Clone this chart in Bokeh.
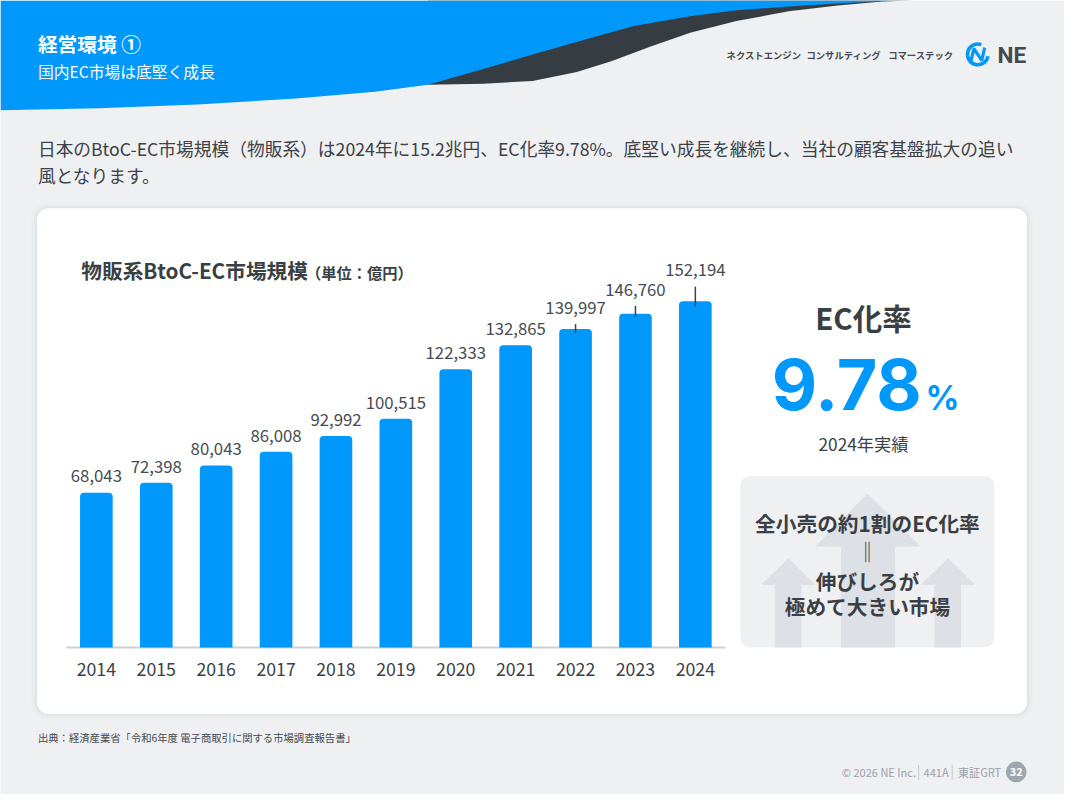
import math
from bokeh.plotting import figure
from bokeh.models import Range1d, ColumnDataSource
from bokeh.core.properties import value
from bokeh.embed import file_html
from bokeh.resources import INLINE

# ---------------- data ----------------
years = [2014, 2015, 2016, 2017, 2018, 2019, 2020, 2021, 2022, 2023, 2024]
market_size = [68043, 72398, 80043, 86008, 92992, 100515, 122333, 132865, 139997, 146760, 152194]
year_labels = [str(y) for y in years]
value_labels = [f"{v:,}" for v in market_size]

header_title = "経営環境 ①"
header_sub = "国内EC市場は底堅く成長"
company_items = ["ネクストエンジン", "コンサルティング", "コマーステック"]
lead_lines = ["日本のBtoC-EC市場規模（物販系）は2024年に15.2兆円、EC化率9.78%。底堅い成長を継続し、当社の顧客基盤拡大の追い",
              "風となります。"]
chart_title = "物販系BtoC-EC市場規模"
chart_unit = "（単位：億円）"
rate_title = "EC化率"
rate_value = "9.78"
rate_unit = "%"
rate_note = "2024年実績"
box_lines = ["全小売の約1割のEC化率", "‖", "伸びしろが", "極めて大きい市場"]
source_text = "出典：経済産業省「令和6年度 電子商取引に関する市場調査報告書」"
footer_items = ["© 2026 NE Inc.", "441A", "東証GRT"]
page_no = "32"

# ---------------- style ----------------
BG = "#eff0f2"
BLUE = "#0098fb"
DARK = "#363d42"
TXT = "#3c4146"
HEAD = "#3a3f44"
JP = "Noto Sans CJK JP"

label_gap = [17, 17, 17, 17, 17, 17, 17, 17, 22, 25, 32]
leader_above = [0, 0, 0, 0, 0, 0, 0, 0, 5, 8, 15]
leader_below = [0, 0, 0, 0, 0, 0, 0, 0, 4, 3, 5]

# page is laid out in reference pixel coordinates (1080 x 810)
PW, PH = 1080, 810
W, H = 1064, 794
S = W / PW

BASE_Y = 660.0
K = 431.0           # value units per reference pixel
STEP = 60.8         # reference pixels per year
X_FIRST = 97.3      # centre of first bar
BAR_W = 0.545

p = figure(width=W, height=H, x_range=Range1d(0, PW), y_range=Range1d(PH, 0),
           output_backend="svg", toolbar_location=None, min_border=0,
           x_axis_type=None, y_axis_type=None,
           background_fill_color=BG, border_fill_color=BG, outline_line_color=None)
p.xgrid.visible = False
p.ygrid.visible = False

yr_start = years[0] - X_FIRST / STEP
p.extra_x_ranges = {"yr": Range1d(yr_start, yr_start + PW / STEP)}
p.extra_y_ranges = {"val": Range1d(-(PH - BASE_Y) * K, BASE_Y * K)}


def fs(size):
    return f"{size * S:.2f}px"


def txt(x, y, s, size, color=TXT, bold=False, align="left", font=JP):
    p.text(x=[x], y=[y], text=[s], text_font=value(font), text_font_size=fs(size),
           text_color=color, text_font_style="bold" if bold else "normal",
           text_align=align, text_baseline="middle")


# ---------------- header waves ----------------
dark_x = [434, 490, 540, 585, 620, 660, 700, 747, 800, 850, 895, 925, 700, 434]
dark_y = [86, 85, 82, 73, 62, 47, 33, 21, 11, 5, 1, 0, 0, 0]
p.patch(dark_x, dark_y, fill_color=DARK, line_color=None)
blue_x = [0, 905, 850, 800, 747, 700, 643, 600, 540, 490, 434, 380, 300, 200, 100, 0]
blue_y = [0, 0, 3, 6, 10, 16, 26, 38, 55, 70, 86, 93, 100, 106, 110, 112]
p.patch(blue_x, blue_y, fill_color=BLUE, line_color=None)

txt(38, 44, header_title, 20, "white", bold=True)
txt(38, 72, header_sub, 16, "white")

# company menu + logo
for xx, s in zip([737, 818, 901], company_items):
    txt(xx, 56, s, 9.5, "#444a50", bold=True)
p.arc(x=[992], y=[55], radius=10.5, start_angle=math.radians(70), end_angle=math.radians(350),
      line_color=BLUE, line_width=3.5)
p.line([985, 988, 996, 999], [62, 49, 61, 48], line_color=BLUE, line_width=3.2)
txt(1012, 56, "NE", 23, "#454a4f", bold=True, font="Roboto")

# lead text
txt(38, 150, lead_lines[0], 18, TXT)
txt(38, 178, lead_lines[1], 18, TXT)

# ---------------- card ----------------
for d, a in [(7, 0.015), (5, 0.02), (3, 0.03), (1.5, 0.04)]:
    p.quad(left=[37 - d], right=[1042 + d], top=[212 - d], bottom=[728 + d],
           fill_color="#8a9099", fill_alpha=a, line_color=None, border_radius=int(12 + d))
p.quad(left=[37], right=[1042], top=[212], bottom=[728], fill_color="white",
       line_color=None, border_radius=12)

txt(82, 275, chart_title, 21, HEAD, bold=True)
txt(310, 277, chart_unit, 15.5, HEAD, bold=True)

# ---------------- bars ----------------
src = ColumnDataSource(dict(year=years, v=market_size, vlabel=value_labels, ylabel=year_labels,
                            gap=[-g * S for g in label_gap]))
p.segment(x0=[years[0] - 0.5], y0=[0], x1=[years[-1] + 0.5], y1=[0],
          line_color="#cdd1d6", line_width=2, x_range_name="yr", y_range_name="val")
p.vbar(x="year", top="v", bottom=0, width=BAR_W, source=src, fill_color=BLUE, line_color=None,
       border_radius=(4, 4, 0, 0), x_range_name="yr", y_range_name="val")
p.text(x="year", y="v", text="vlabel", y_offset="gap", source=src, text_font=value(JP),
       text_font_size=fs(17), text_color="#474c52", text_align="center", text_baseline="middle",
       x_range_name="yr", y_range_name="val")
p.text(x="year", y=0, text="ylabel", y_offset=22 * S, source=src, text_font=value(JP),
       text_font_size=fs(18), text_color=TXT, text_align="center", text_baseline="middle",
       x_range_name="yr", y_range_name="val")
lx, ly0, ly1 = [], [], []
for yv, v, a, b in zip(years, market_size, leader_above, leader_below):
    if a > 0:
        lx.append(yv)
        ly0.append(v - b * K)
        ly1.append(v + a * K)
p.segment(x0=lx, y0=ly0, x1=lx, y1=ly1, line_color=TXT, line_width=1.5,
          x_range_name="yr", y_range_name="val")

# ---------------- right panel ----------------
txt(876, 323, rate_title, 30, HEAD, bold=True, align="center")
txt(859, 392, rate_value, 71, BLUE, bold=True, align="center", font="Inter")
txt(939, 405, rate_unit, 34, BLUE, bold=True, font="Inter")
txt(876, 452, rate_note, 17.5, TXT, align="center")

p.quad(left=[751], right=[1009], top=[485], bottom=[660], fill_color=BG, line_color=None, border_radius=10)
ARROW = "#dde0e4"
p.patch([880, 934, 908, 908, 853, 853, 827], [503, 557, 557, 660, 660, 557, 557], fill_color=ARROW, line_color=None)
p.patch([800, 827, 813, 813, 786, 786, 772], [569, 596, 596, 660, 660, 596, 596], fill_color=ARROW, line_color=None)
p.patch([962, 989, 975, 975, 948, 948, 934], [569, 596, 596, 660, 660, 596, 596], fill_color=ARROW, line_color=None)

for yy, s in zip([533, 562, 592, 618], box_lines):
    txt(880, yy, s, 21 if s != "‖" else 21, HEAD, bold=True, align="center")

# ---------------- footer ----------------
txt(38, 752, source_text, 10.5, "#444a50")
FOOT = "#9ba1a8"
for xx, s in zip([854, 937, 972], footer_items):
    txt(xx, 787, s, 11.2, FOOT)
p.segment(x0=[932, 966], y0=[780, 780], x1=[932, 966], y1=[795, 795], line_color="#c5c9ce", line_width=1)
p.scatter(x=[1031], y=[787], size=21 * S, fill_color="#a0a6ad", line_color=None)
txt(1031, 787, page_no, 11, "white", bold=True, align="center")

open("out.html", "w").write(file_html(p, INLINE))
